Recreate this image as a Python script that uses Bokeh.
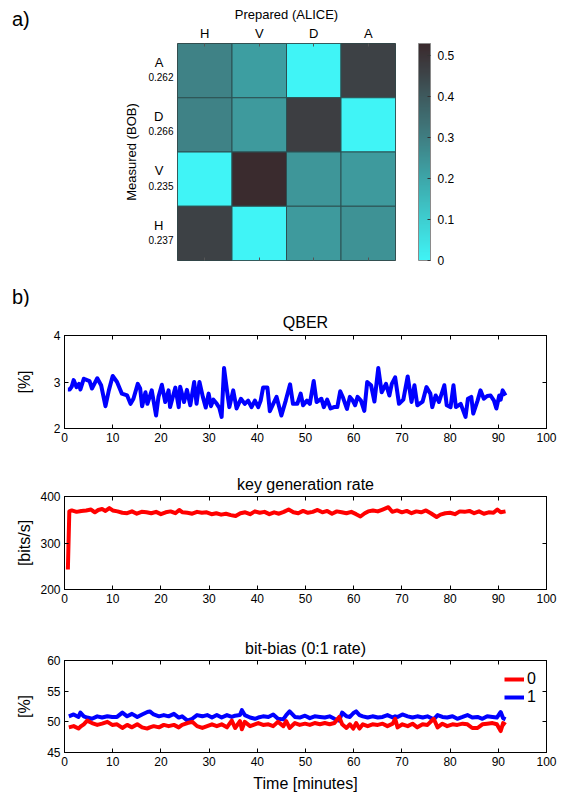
from bokeh.plotting import figure
from bokeh.layouts import column, row
from bokeh.models import (ColumnDataSource, LinearColorMapper, ColorBar, FixedTicker,
                          LinearAxis, Legend, LegendItem, Div,
                          CustomJSTickFormatter, Range1d)
from bokeh.embed import file_html
from bokeh.resources import INLINE

FONT = "Liberation Sans"

# ---------------- data: panel a (tomography matrix) ----------------
prepared = ["H", "V", "D", "A"]
measured_rows = ["A", "D", "V", "H"]          # top to bottom
measured_axis = ["H", "V", "D", "A"]          # bottom to top
row_totals = ["0.262", "0.266", "0.235", "0.237"]
row_A = [0.29, 0.22, 0.00, 0.46]
row_D = [0.29, 0.23, 0.47, 0.00]
row_V = [0.00, 0.525, 0.24, 0.23]
row_H = [0.46, 0.00, 0.23, 0.25]
cbar_ticks = [0, 0.1, 0.2, 0.3, 0.4, 0.5]
cbar_low, cbar_high = 0.0, 0.528

# ---------------- data: panel b ----------------
x_ticks = [0, 10, 20, 30, 40, 50, 60, 70, 80, 90, 100]

qber_t = [0.7, 1.1, 1.5, 1.9, 2.5, 3.0, 3.3, 4.0, 4.7, 5.2, 5.7, 6.3, 6.8, 7.6, 8.5, 9.2,
          10.0, 10.9, 11.5, 11.9, 13.0, 13.7, 14.3, 15.2, 15.7, 16.1, 16.8, 17.2, 18.1, 19.0, 19.5,
          20.2, 20.9, 21.6, 21.9, 23.0, 23.7, 24.0, 24.8, 25.4, 26.1, 26.9, 27.4, 28.0, 28.7, 29.3, 29.9,
          30.4, 30.9, 31.6, 32.1, 32.6, 33.1, 33.7, 34.2, 35.0, 35.7, 36.6, 37.4, 38.1, 38.8, 39.5,
          40.2, 40.7, 41.2, 42.1, 42.6, 43.3, 44.0, 45.0, 45.9, 46.8, 47.4, 48.3, 49.0, 49.5,
          50.3, 50.9, 51.7, 52.3, 53.3, 53.8, 54.5, 55.2, 55.9, 56.6, 57.2, 57.8, 58.6, 59.2, 59.8,
          60.3, 60.8, 61.5, 62.2, 62.8, 63.6, 64.3, 65.1, 65.8, 66.7, 67.4, 67.9, 68.6, 69.4,
          70.3, 71.2, 72.0, 72.6, 73.2, 74.3, 75.1, 75.9, 76.3, 77.0, 77.7, 78.8, 79.3,
          80.1, 80.7, 81.2, 82.2, 83.2, 83.7, 84.4, 84.8, 85.7, 86.3, 87.0, 87.7, 88.4, 89.1, 89.6,
          90.2, 90.5, 90.9, 91.5]
qber_pct = [2.84, 2.84, 2.90, 3.04, 2.89, 2.96, 2.84, 3.07, 3.04, 3.02, 2.86, 2.98, 3.08, 2.93, 2.48, 2.82,
            3.13, 3.00, 2.85, 2.75, 2.71, 2.53, 2.64, 2.96, 2.86, 2.48, 2.78, 2.53, 2.82, 2.28, 2.68,
            2.94, 2.57, 2.82, 2.46, 2.88, 2.46, 2.90, 2.57, 2.83, 2.50, 3.00, 2.53, 3.00, 2.68, 2.45, 2.75,
            2.48, 2.62, 2.53, 2.45, 2.25, 3.30, 2.82, 2.46, 2.82, 2.43, 2.64, 2.53, 2.60, 2.46, 2.60,
            2.46, 2.60, 2.88, 2.88, 2.37, 2.53, 2.68, 2.28, 2.60, 2.95, 2.53, 2.53, 2.75, 2.50,
            2.60, 2.53, 3.02, 2.57, 2.64, 2.46, 2.62, 2.43, 2.46, 2.46, 2.80, 2.66, 2.42, 2.68, 2.60,
            2.50, 2.68, 2.60, 2.38, 3.00, 2.93, 2.58, 3.30, 2.78, 2.96, 2.71, 2.96, 3.10, 2.53,
            2.62, 3.12, 2.57, 2.93, 2.50, 2.58, 2.89, 2.75, 2.46, 2.71, 2.57, 2.93, 2.50,
            2.46, 2.93, 2.46, 2.53, 2.25, 2.64, 2.68, 2.32, 2.60, 2.82, 2.64, 2.70, 2.71, 2.60, 2.43,
            2.71, 2.62, 2.82, 2.71]
qber_ticks = [2, 3, 4]

rate_t = [0.7, 1.0, 1.5, 2.5, 3.5, 4.5, 5.5, 6.3, 7.0, 7.8, 8.5, 9.3, 10.0,
          11.0, 12.0, 13.0, 14.0, 15.0, 16.0, 17.0, 18.0, 19.0, 20.0,
          21.0, 22.0, 23.0, 23.8, 24.5, 25.5, 26.5, 27.5, 28.5, 29.5,
          30.5, 31.5, 32.5, 33.5, 34.5, 35.5, 36.5, 37.5, 38.5, 39.5,
          40.5, 41.5, 42.5, 43.5, 44.5, 45.5, 46.5, 47.5, 48.5, 49.5,
          50.5, 51.5, 52.5, 53.5, 54.5, 55.5, 56.5, 57.5, 58.5, 59.5,
          60.5, 61.4, 62.3, 63.0, 64.0, 65.0, 66.0, 67.2, 68.0, 69.0,
          70.0, 71.0, 72.0, 73.0, 74.0, 75.0, 76.0, 77.2, 78.0, 79.0,
          80.0, 81.0, 82.0, 83.0, 84.0, 85.0, 86.0, 87.0, 88.0, 89.0, 89.8, 90.5, 91.5]
rate_bps = [243, 368, 370, 367, 369, 370, 372, 366, 371, 373, 369, 375, 370,
            368, 365, 364, 368, 363, 367, 366, 364, 367, 362,
            366, 368, 364, 371, 366, 365, 363, 367, 365, 366,
            362, 364, 361, 363, 360, 358, 364, 366, 362, 368,
            365, 367, 362, 366, 363, 367, 372, 366, 364, 369,
            365, 367, 371, 366, 369, 363, 368, 366, 364, 367,
            362, 357, 364, 368, 370, 368, 372, 377, 367, 370,
            366, 369, 364, 368, 366, 370, 364, 356, 361, 364,
            365, 362, 368, 367, 369, 364, 368, 363, 366, 365, 372, 366, 368]
rate_ticks = [200, 300, 400]

bias_t = [0.9, 1.9, 2.9, 3.3, 4.0, 4.7, 5.7, 6.8, 7.8, 8.9,
          9.9, 10.9, 12.0, 13.0, 14.0, 15.1, 16.1, 17.2, 17.7, 18.5,
          19.6, 20.6, 21.6, 22.7, 23.7, 24.4, 25.5, 26.5, 27.5, 28.6,
          29.6, 30.6, 31.6, 32.6, 33.7, 34.7, 35.4, 36.4, 36.8, 37.4,
          38.5, 39.5, 40.2, 41.2, 42.3, 43.3, 44.3, 45.4, 46.0, 46.7,
          47.8, 48.8, 49.9, 50.9, 51.9, 53.0, 54.0, 55.0, 56.0, 57.0,
          57.6, 58.5, 59.2, 59.9, 60.5, 61.2, 61.9, 62.9, 63.9, 65.0,
          66.0, 67.0, 68.1, 68.6, 69.1, 70.1, 71.2, 72.2, 73.2, 74.3,
          75.3, 76.6, 77.4, 78.4, 79.4, 80.5, 81.5, 82.6, 83.6, 84.6,
          85.7, 86.7, 87.7, 88.8, 89.7, 90.5, 91.0, 91.5]
bias_0 = [49.1, 49.3, 48.9, 49.2, 49.6, 50.2, 49.8, 49.5, 49.7, 50.0,
          49.5, 49.6, 49.0, 49.5, 49.1, 49.6, 49.1, 48.9, 49.1, 49.3,
          49.1, 49.5, 49.3, 49.5, 49.1, 49.5, 49.8, 50.0, 49.3, 49.0,
          49.3, 49.6, 49.3, 49.6, 49.1, 50.2, 49.0, 50.1, 48.8, 50.0,
          49.3, 49.6, 49.8, 49.5, 49.6, 49.3, 50.0, 49.3, 50.1, 49.0,
          49.8, 49.5, 49.7, 49.5, 49.8, 49.6, 49.8, 49.6, 49.8, 50.8,
          49.6, 49.0, 49.6, 48.9, 49.8, 48.9, 49.6, 49.3, 49.6, 49.5,
          49.7, 49.3, 49.7, 50.5, 49.1, 49.6, 49.3, 49.7, 49.1, 49.6,
          49.5, 50.5, 49.1, 49.7, 49.3, 49.6, 49.5, 49.7, 49.6, 49.0,
          49.0, 49.6, 49.7, 49.8, 49.6, 48.5, 49.8, 49.5]
bias_1 = [50.9, 51.2, 50.8, 51.5, 50.9, 50.7, 50.5, 50.9, 50.7, 50.9,
          50.8, 50.8, 51.5, 50.9, 51.3, 50.8, 51.2, 51.6, 51.7, 51.2,
          50.9, 51.1, 50.9, 51.3, 50.7, 50.9, 50.2, 50.5, 51.1, 50.9,
          51.1, 50.7, 51.1, 50.7, 51.1, 50.8, 51.0, 51.1, 51.9, 51.1,
          50.7, 50.5, 50.7, 50.9, 50.8, 51.2, 50.5, 50.4, 51.1, 51.7,
          50.8, 50.7, 51.0, 50.6, 50.9, 50.8, 50.7, 50.9, 50.5, 50.2,
          51.5, 50.9, 50.8, 51.4, 51.7, 51.1, 50.9, 50.7, 50.9, 50.7,
          50.8, 51.1, 50.7, 50.9, 50.8, 51.2, 50.9, 50.7, 50.9, 50.7,
          50.9, 50.4, 51.1, 50.8, 50.7, 50.9, 50.5, 50.8, 51.1, 50.7,
          50.8, 50.5, 50.9, 50.8, 50.7, 51.6, 50.6, 50.4]
bias_ticks = [45, 50, 55, 60]
bias_labels = ["0", "1"]

# ---------------- styling helpers ----------------
color_stops = [(0.00, (0x40, 0xF4, 0xF6)), (0.10, (0x3E, 0xCE, 0xD0)),
               (0.20, (0x3D, 0xA6, 0xA9)), (0.30, (0x3F, 0x7E, 0x82)),
               (0.40, (0x3E, 0x5A, 0x5E)), (0.46, (0x3D, 0x42, 0x46)),
               (0.528, (0x3A, 0x2A, 0x2D))]
LETTER_SHIFT = 0.15    # letter sits above the cell centre (fraction of a cell)
TOTAL_SHIFT = -0.12    # row total sits below the cell centre


def build_palette(stops, n=256):
    lo, hi = stops[0][0], stops[-1][0]
    out = []
    for i in range(n):
        v = lo + (hi - lo) * i / (n - 1)
        c = stops[-1][1]
        for (a, ca), (b, cb) in zip(stops[:-1], stops[1:]):
            if a <= v <= b:
                f = (v - a) / (b - a)
                c = tuple(round(ca[k] + (cb[k] - ca[k]) * f) for k in range(3))
                break
        out.append("#%02x%02x%02x" % tuple(c))
    return out


palette = build_palette(color_stops)
mapper = LinearColorMapper(palette=palette, low=cbar_low, high=cbar_high)


def panel_tag(text, width, height, pad_left, pad_top):
    return Div(text=text, width=width, height=height, margin=0,
               styles={"font-family": FONT, "font-size": "20px", "color": "black",
                       "padding-left": f"{pad_left}px", "padding-top": f"{pad_top}px",
                       "box-sizing": "border-box", "line-height": "20px"})


def text_axis(ax, size, standoff):
    ax.major_label_text_font = FONT
    ax.major_label_text_font_size = size
    ax.major_label_text_color = "black"
    ax.major_label_standoff = standoff
    ax.minor_tick_in = 0
    ax.minor_tick_out = 0
    ax.axis_line_color = None
    ax.major_tick_line_color = "#555555"


# ---------------- panel a ----------------
rows = {"A": row_A, "D": row_D, "V": row_V, "H": row_H}
cell_x, cell_y, cell_v = [], [], []
for m in measured_rows:
    for j, pr in enumerate(prepared):
        cell_x.append(j + 0.5)
        cell_y.append(measured_axis.index(m) + 0.5)
        cell_v.append(rows[m][j])
src_a = ColumnDataSource(dict(px=cell_x, my=cell_y, val=cell_v))

n_p, n_m = len(prepared), len(measured_axis)
p_a = figure(width=447, height=272, x_range=Range1d(0, n_p), y_range=Range1d(0, n_m),
             x_axis_location="above", output_backend="svg", toolbar_location=None,
             min_border_left=56, min_border_right=173, min_border_top=43, min_border_bottom=12)
p_a.rect(x="px", y="my", width=1, height=1, source=src_a,
         fill_color={"field": "val", "transform": mapper},
         line_color="#2b5052", line_width=1)
p_a.grid.visible = False
p_a.outline_line_color = "#3a3a3a"

centers_x = [j + 0.5 for j in range(n_p)]
xa = p_a.above[0]
xa.ticker = FixedTicker(ticks=centers_x)
xa.major_label_overrides = {c: f for c, f in zip(centers_x, prepared)}
text_axis(xa, "13px", 3)
xa.major_tick_in = 3
xa.major_tick_out = 0
xa.axis_label = "Prepared (ALICE)"
xa.axis_label_text_font = FONT
xa.axis_label_text_font_size = "13px"
xa.axis_label_text_font_style = "normal"
xa.axis_label_text_color = "black"
xa.axis_label_standoff = 1

xb_a = LinearAxis(ticker=FixedTicker(ticks=centers_x),
                  formatter=CustomJSTickFormatter(code="return ''"))
text_axis(xb_a, "13px", 0)
xb_a.major_tick_in = 3
xb_a.major_tick_out = 0
p_a.add_layout(xb_a, "below")

# inner left axis: row totals (small), outer left axis: basis letters
tot_pos = [measured_axis.index(m) + 0.5 + TOTAL_SHIFT for m in measured_rows]
let_pos = [measured_axis.index(m) + 0.5 + LETTER_SHIFT for m in measured_rows]
ya = p_a.left[0]
ya.ticker = FixedTicker(ticks=tot_pos)
ya.major_label_overrides = {p: t for p, t in zip(tot_pos, row_totals)}
text_axis(ya, "10px", 4)
ya.major_tick_in = 0
ya.major_tick_out = 0

ya2 = LinearAxis(ticker=FixedTicker(ticks=let_pos))
ya2.major_label_overrides = {p: t for p, t in zip(let_pos, measured_rows)}
text_axis(ya2, "13px", -18)
ya2.major_tick_in = 0
ya2.major_tick_out = 0
ya2.axis_label = "Measured (BOB)"
ya2.axis_label_text_font = FONT
ya2.axis_label_text_font_size = "13px"
ya2.axis_label_text_font_style = "normal"
ya2.axis_label_text_color = "black"
ya2.axis_label_standoff = 12
p_a.add_layout(ya2, "left")

cb = ColorBar(color_mapper=mapper, width=12, height=217, location=(23, 0), padding=0, margin=0,
              ticker=FixedTicker(ticks=cbar_ticks),
              major_label_text_font=FONT, major_label_text_font_size="12px",
              major_label_text_color="black", major_tick_line_color="#333333",
              major_tick_in=3, major_tick_out=0, bar_line_color="#8a8a8a",
              label_standoff=7, background_fill_alpha=0)
p_a.add_layout(cb, "right")

row_a = row(panel_tag("a)", 121, 272, 12, 9), p_a, spacing=0)


# ---------------- panel b ----------------
def style_axis(ax, labels=True):
    ax.major_tick_in = 4
    ax.major_tick_out = 0
    ax.minor_tick_in = 0
    ax.minor_tick_out = 0
    ax.major_tick_line_color = "black"
    ax.axis_line_color = "black"
    ax.major_label_text_font = FONT
    ax.major_label_text_font_size = "12px"
    ax.major_label_text_color = "black"
    ax.major_label_standoff = 4
    if not labels:
        ax.formatter = CustomJSTickFormatter(code="return ''")
        ax.major_label_standoff = 0


def line_fig(height, y_lo, y_hi, y_ticks, title_text, y_label, b_top, b_bottom,
             ylab_standoff, title_standoff):
    p = figure(width=568, height=height, x_range=Range1d(0, 100), y_range=Range1d(y_lo, y_hi),
               output_backend="svg", toolbar_location=None,
               min_border_left=64, min_border_right=22, min_border_top=b_top,
               min_border_bottom=b_bottom)
    p.grid.visible = False
    p.outline_line_color = "black"
    p.title.text = title_text
    p.title.align = "center"
    p.title.text_font = FONT
    p.title.text_font_size = "16px"
    p.title.text_font_style = "normal"
    p.title.text_color = "black"
    p.title.standoff = title_standoff
    p.xaxis.ticker = FixedTicker(ticks=x_ticks)
    p.yaxis.ticker = FixedTicker(ticks=y_ticks)
    style_axis(p.xaxis[0])
    style_axis(p.yaxis[0])
    ya_ = p.yaxis[0]
    ya_.axis_label = y_label
    ya_.axis_label_text_font = FONT
    ya_.axis_label_text_font_size = "16px"
    ya_.axis_label_text_font_style = "normal"
    ya_.axis_label_text_color = "black"
    ya_.axis_label_standoff = ylab_standoff
    top = LinearAxis(ticker=FixedTicker(ticks=x_ticks))
    style_axis(top, labels=False)
    p.add_layout(top, "above")
    right = LinearAxis(ticker=FixedTicker(ticks=y_ticks))
    style_axis(right, labels=False)
    p.add_layout(right, "right")
    return p


tag_b = panel_tag("b)", 568, 34, 12, 15)

p_q = line_fig(142, 2, 4, qber_ticks, "QBER", "[%]", 29, 20, 18, 10)
p_q.line(qber_t, qber_pct, color="#0000FF", line_width=4, line_join="round")

p_k = line_fig(163, 200, 400, rate_ticks, "key generation rate", "[bits/s]", 48, 22, 4, 8)
p_k.line(rate_t, rate_bps, color="#FF0000", line_width=4, line_join="round")

p_b = line_fig(183, 45, 60, bias_ticks, "bit-bias (0:1 rate)", "[%]", 49, 42, 11, 8)
r1 = p_b.line(bias_t, bias_1, color="#0000FF", line_width=4, line_join="round")
r0 = p_b.line(bias_t, bias_0, color="#FF0000", line_width=4, line_join="round")
xb = p_b.below[0]
xb.axis_label = "Time [minutes]"
xb.axis_label_text_font = FONT
xb.axis_label_text_font_size = "16px"
xb.axis_label_text_font_style = "normal"
xb.axis_label_text_color = "black"
xb.axis_label_standoff = 6
xb.major_label_standoff = 4
leg = Legend(items=[LegendItem(label=bias_labels[0], renderers=[r0]),
                    LegendItem(label=bias_labels[1], renderers=[r1])],
             location="top_right", border_line_color=None, background_fill_alpha=0,
             label_text_font=FONT, label_text_font_size="16px", label_text_color="black",
             glyph_width=20, glyph_height=16, label_height=16, label_width=9,
             spacing=0, padding=0, margin=10, label_standoff=3)
p_b.add_layout(leg)

layout = column(row_a, tag_b, p_q, p_k, p_b, spacing=0)
open("out.html", "w").write(file_html(layout, INLINE))
